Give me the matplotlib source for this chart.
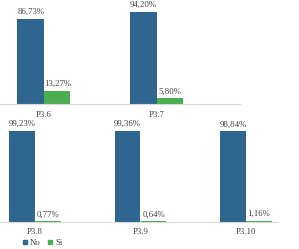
import matplotlib
matplotlib.use("Agg")
import matplotlib.pyplot as plt
import numpy as np
from matplotlib.lines import Line2D

top_cats = ["P3.6", "P3.7"]
top_no = [86.73, 94.20]
top_si = [13.27, 5.80]

bot_cats = ["P3.8", "P3.9", "P3.10"]
bot_no = [99.23, 99.36, 98.84]
bot_si = [0.77, 0.64, 1.16]

series_names = ["No", "Si"]
c_no = "#2E6690"
c_si = "#4BAE4F"

W, H = 299, 249
fig = plt.figure(figsize=(W / 100, H / 100), dpi=100)
plt.rcParams["font.family"] = ["Liberation Serif", "DejaVu Serif"]

fs = 6.3


def fmt(v):
    return f"{v:.2f}".replace(".", ",") + "%"


def panel(rect, cats, no, si, bw, xlim, ylim, pad):
    ax = fig.add_axes(rect)
    x = np.arange(len(cats))
    b1 = ax.bar(x - bw / 2, no, bw, color=c_no)
    b2 = ax.bar(x + bw / 2, si, bw, color=c_si)
    for bars, vals in ((b1, no), (b2, si)):
        for r, v in zip(bars, vals):
            ax.annotate(fmt(v), (r.get_x() + r.get_width() / 2, r.get_height()),
                        xytext=(0, 2), textcoords="offset points",
                        ha="center", va="bottom", fontsize=fs, color="#404040")
    ax.set_xlim(*xlim)
    ax.set_ylim(*ylim)
    ax.set_xticks(x)
    ax.set_xticklabels(cats, fontsize=fs, color="#404040")
    ax.tick_params(axis="x", length=0, pad=pad)
    ax.set_yticks([])
    for s in ("top", "left", "right"):
        ax.spines[s].set_visible(False)
    ax.spines["bottom"].set_color("#d9d9d9")
    ax.spines["bottom"].set_linewidth(0.8)
    ax.patch.set_alpha(0)
    return ax


# top row: baseline at y=104 px, 0.98 px per %
sp_t = 113.0
panel([0 / W, (H - 104) / H, 240 / W, 98 / H], top_cats, top_no, top_si,
      26.5 / sp_t, (-44 / sp_t, (240 - 44) / sp_t), (0, 100), 5)

# bottom row: baseline at y=222 px, 0.917 px per %
sp_b = 105.5
panel([0 / W, (H - 222) / H, 278 / W, 91.7 / H], bot_cats, bot_no, bot_si,
      26 / sp_b, (-35 / sp_b, (278 - 35) / sp_b), (0, 100), 4)

handles = [Line2D([], [], marker="s", ls="none", color=c, markersize=3.5) for c in (c_no, c_si)]
fig.legend(handles, series_names, loc="center left", bbox_to_anchor=(14 / W, 1 - 243 / H),
           frameon=False, ncol=2, fontsize=fs, handlelength=0.6, handletextpad=0.3,
           columnspacing=0.8, labelcolor="#404040")

fig.savefig("out.png", dpi=100)
